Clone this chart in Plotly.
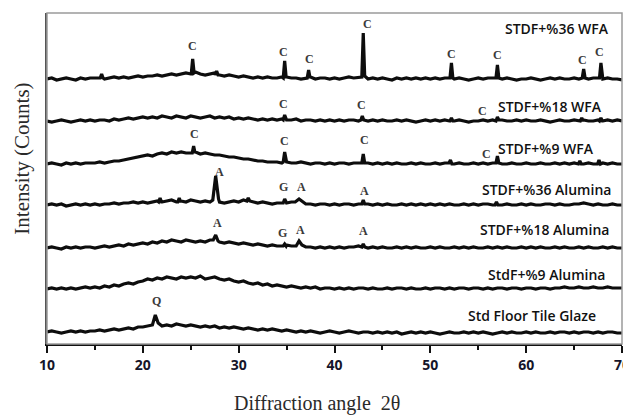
import plotly.graph_objects as go

# 2-theta sampling grid for the background (0.5 degree steps, 10..70)
two_theta = [10 + 0.5 * i for i in range(121)]

series_names = ["STDF+%36 WFA", "STDF+%18 WFA", "STDF+%9 WFA",
                "STDF+%36 Alumina", "STDF+%18 Alumina", "StdF+%9 Alumina",
                "Std Floor Tile Glaze"]

# vertical stacking offset of each pattern (a.u.)
stack_offset = [265, 223, 180, 139, 96, 55, 12]

# ---- background intensities (a.u.) on the 0.5 degree grid ----
bg_36wfa = [0, 1, -1, 0, 1, 0, -1, 1, 0, 1,
            1, 1, 0, 1, 2, 1, 2, 1, 2, 3,
            2, 3, 3, 4, 3, 4, 5, 4, 5, 6,
            5, 7, 5, 4, 5, 6, 4, 3, 4, 3,
            2, 3, 2, 1, 2, 1, 2, 1, 1, 2,
            2, 1, 1, 0, 1, 2, 0, 1, 1, 0,
            1, 0, 1, 2, 1, 2, 1, 0, 1, 0,
            1, 0, -1, 1, 0, 1, 0, 1, 0, 1,
            0, 1, 0, 1, 1, 0, 1, 0, -1, 0,
            1, 0, 1, 1, 0, 0, 1, 0, -1, 0,
            0, 1, 0, -1, 0, 1, 0, 1, 0, 0,
            1, 0, 1, 0, 1, 1, 0, 1, 0, 0,
            -1]
bg_18wfa = [0, -1, 0, 1, 0, -1, 0, 1, 0, 1,
            0, 1, 1, 0, 2, 1, 2, 3, 2, 3,
            4, 3, 4, 3, 5, 4, 3, 5, 4, 3,
            5, 4, 3, 4, 5, 3, 4, 3, 4, 2,
            3, 2, 3, 2, 1, 2, 1, 2, 1, 2,
            1, 1, 2, 0, 1, 1, 0, 1, 0, 1,
            0, 1, 0, 1, 1, 0, 1, 0, 1, 0,
            1, 0, 0, 1, 0, 1, 0, -1, 0, 1,
            0, 1, 0, 1, 0, 0, 1, 0, -1, 0,
            0, 1, 0, 1, 0, 1, 0, 0, 1, 0,
            1, 0, 0, 1, 0, -1, 0, 1, 0, 0,
            1, 0, 1, 0, 0, 1, 0, 1, 0, 1,
            0]
bg_9wfa = [0, 1, 0, -1, 1, 0, 1, 0, 1, 1,
           1, 2, 1, 2, 3, 3, 4, 5, 6, 7,
           8, 9, 8, 10, 11, 10, 12, 11, 12, 11,
           11, 12, 10, 11, 10, 9, 9, 8, 7, 7,
           6, 5, 5, 4, 3, 3, 2, 2, 2, 1,
           2, 1, 1, 2, 1, 0, 1, 1, 0, 1,
           0, 1, 1, 0, 1, 1, 2, 1, 0, 1,
           0, 1, 0, 1, 0, 0, 1, 0, 1, 0,
           0, 1, 0, 1, 1, 0, 1, 0, 0, 1,
           0, 1, 0, 1, 1, 0, 0, 1, 0, 0,
           1, 0, 0, 1, 0, 0, 1, 0, 1, 0,
           1, 0, 0, 1, 0, 1, 1, 0, 1, 0,
           0]
bg_36al = [0, 1, 0, 1, -1, 0, 1, 0, 1, 0,
           1, 0, 1, 1, 2, 1, 2, 2, 3, 2,
           3, 2, 3, 4, 3, 4, 5, 3, 4, 3,
           5, 4, 3, 4, 3, 7, 3, 2, 3, 4,
           3, 5, 6, 3, 2, 3, 2, 1, 2, 2,
           2, 3, 4, 2, 1, 1, 0, 1, 1, 0,
           1, 0, 1, 1, 0, 1, 0, 1, 0, 1,
           0, 1, 0, 0, 1, 0, 1, 0, 1, 0,
           1, 0, 1, 0, 1, 0, 0, 1, 0, 1,
           0, 1, 1, 0, 1, 0, 1, 0, 0, 1,
           0, 1, 0, 0, 1, 1, 0, 1, 0, 0,
           1, 1, 2, 1, 0, 1, 0, 0, 1, 0,
           0]
bg_18al = [0, 1, 0, -1, 1, 0, 1, 0, 1, 1,
           0, 1, 2, 1, 2, 3, 2, 4, 3, 4,
           5, 4, 6, 5, 7, 6, 8, 7, 6, 8,
           7, 6, 7, 6, 8, 9, 6, 5, 6, 5,
           4, 5, 4, 3, 4, 3, 2, 3, 2, 2,
           3, 2, 4, 3, 1, 1, 0, 1, 0, 1,
           0, 1, 0, 1, 1, 2, 1, 0, 1, 0,
           1, 0, 0, 1, 0, 1, 0, 1, 0, 0,
           1, 0, 1, 0, 0, 1, 0, 1, 0, 1,
           0, 0, 1, 0, 1, 0, 1, 0, 0, 1,
           0, 1, 0, 1, 0, 0, 1, 0, 1, 0,
           0, 1, 0, 1, 0, 0, 1, 0, 1, 0,
           0]
bg_9al = [0, 1, 0, 1, 0, 1, 0, 1, 2, 1,
          2, 1, 3, 2, 4, 3, 5, 6, 5, 7,
          8, 10, 9, 11, 10, 12, 11, 10, 12, 11,
          12, 11, 13, 10, 11, 12, 10, 9, 10, 8,
          7, 8, 6, 5, 6, 4, 5, 3, 4, 3,
          2, 3, 2, 1, 2, 1, 2, 0, 1, 1,
          0, 1, 0, 1, 0, 1, 1, 0, 1, 0,
          0, 1, 0, 1, 1, 0, 1, 0, 0, 1,
          0, 1, 1, 0, 1, 0, 1, 1, 0, 1,
          1, 0, 1, 0, 1, 1, 0, 1, 1, 0,
          1, 1, 0, 1, 1, 0, 1, 1, 2, 1,
          1, 2, 1, 1, 2, 1, 1, 2, 1, 1,
          1]
bg_std = [0, 1, 0, -1, 0, 1, 0, 1, 0, 1,
          1, 2, 1, 2, 3, 2, 3, 4, 3, 5,
          5, 6, 8, 7, 6, 7, 6, 8, 7, 6,
          7, 6, 5, 6, 5, 6, 4, 5, 4, 5,
          4, 3, 4, 3, 2, 3, 2, 3, 2, 1,
          2, 1, 0, 1, 0, 1, 0, -1, 0, 1,
          0, -1, 0, 1, 0, -1, 0, 0, -1, 0,
          -1, 0, -1, 0, -2, -1, 0, -1, 0, -1,
          0, -1, -2, -1, 0, -1, -1, 0, -1, 0,
          -1, 0, -1, -2, -1, 0, -1, 0, -1, -1,
          0, -1, 0, -1, -1, 0, -1, 0, 0, -1,
          0, -1, 0, 0, -1, 0, -1, 0, 0, -1,
          -1]

# ---- sharp reflections: (foot, apex, foot) samples per peak ----
pk_36wfa_x = [15.55, 15.7, 15.85, 25.05, 25.2, 25.35, 27.55, 27.7, 27.85,
              34.65, 34.8, 34.95, 37.15, 37.3, 37.45, 42.85, 43.0, 43.15,
              52.05, 52.2, 52.35, 56.85, 57.0, 57.15, 65.85, 66.0, 66.15,
              67.65, 67.8, 67.95]
pk_36wfa_y = [1, 5, 1, 5, 20, 6, 4, 8, 4,
              1, 18, 2, 1, 9, 1, 2, 46, 3,
              1, 16, 1, 1, 14, 1, 1, 10, 1,
              1, 16, 1]
pk_18wfa_x = [34.65, 34.8, 34.95, 42.75, 42.9, 43.05, 52.05, 52.2, 52.35,
              56.85, 57.0, 57.15, 65.65, 65.8, 65.95, 67.65, 67.8, 67.95]
pk_18wfa_y = [1, 6, 1, 1, 5, 1, 0, 3, 0,
              0, 4, 1, 0, 3, 0, 0, 3, 0]
pk_9wfa_x = [25.15, 25.3, 25.45, 34.65, 34.8, 34.95, 42.85, 43.0, 43.15,
             51.95, 52.1, 52.25, 56.85, 57.0, 57.15, 65.45, 65.6, 65.75,
             67.45, 67.6, 67.75]
pk_9wfa_y = [11, 18, 11, 2, 12, 2, 1, 10, 1,
             1, 4, 0, 1, 8, 1, 0, 3, 0,
             0, 4, 0]
pk_36al_x = [21.65, 21.8, 21.95, 23.65, 23.8, 23.95, 27.3, 27.6, 27.9,
             30.85, 31.0, 31.15, 34.65, 34.8, 34.95, 35.9, 36.3, 36.7,
             42.85, 43.0, 43.15, 56.75, 56.9, 57.05]
pk_36al_y = [3, 7, 3, 3, 7, 3, 5, 29, 6,
             4, 7, 4, 2, 6, 2, 3, 6, 3,
             1, 5, 1, 0, 3, 0]
pk_18al_x = [27.35, 27.6, 27.85, 34.65, 34.8, 34.95, 36.0, 36.3, 36.6,
             42.85, 43.0, 43.15]
pk_18al_y = [8, 13, 7, 2, 4, 2, 2, 7, 3,
             1, 4, 1]
pk_9al_x = []
pk_9al_y = []
pk_std_x = [21.0, 21.3, 21.6]
pk_std_y = [7, 17, 9]

backgrounds = [bg_36wfa, bg_18wfa, bg_9wfa, bg_36al, bg_18al, bg_9al, bg_std]
peaks_x = [pk_36wfa_x, pk_18wfa_x, pk_9wfa_x, pk_36al_x, pk_18al_x, pk_9al_x, pk_std_x]
peaks_y = [pk_36wfa_y, pk_18wfa_y, pk_9wfa_y, pk_36al_y, pk_18al_y, pk_9al_y, pk_std_y]

# phase labels: (text, 2theta, height a.u.)
phase_text = ["C", "C", "C", "C", "C", "C", "C", "C",
              "C", "C", "C",
              "C", "C", "C", "C",
              "A", "G", "A", "A",
              "A", "G", "A", "A",
              "Q"]
phase_x = [25.2, 34.7, 37.4, 43.4, 52.2, 57.0, 65.9, 67.7,
           34.7, 42.8, 55.4,
           25.4, 34.8, 43.1, 55.9,
           28.0, 34.7, 36.6, 43.1,
           27.8, 34.6, 36.4, 43.0,
           21.4]
phase_y = [298, 292, 285, 320, 290, 289, 284, 292,
           240, 239, 233,
           210, 203, 204, 190,
           172, 157, 157, 153,
           121, 111, 114, 113,
           43]

# series name labels: right edge (2theta) and height (a.u.)
name_x = [68.8, 68.1, 67.3, 69.1, 68.8, 68.4, 67.5]
name_y = [316, 238, 196, 155, 115, 70, 29]


def merge(bg, px, py):
    assert len(bg) == len(two_theta)
    spans = [(px[i], px[i + 2]) for i in range(0, len(px), 3)]
    pts = [(x, y) for x, y in zip(two_theta, bg)
           if not any(a <= x <= b for a, b in spans)]
    pts += list(zip(px, py))
    pts.sort()
    return [p[0] for p in pts], [p[1] for p in pts]


fig = go.Figure()
for name, bg, px, py, off in zip(series_names, backgrounds, peaks_x, peaks_y, stack_offset):
    xs, ys = merge(bg, px, py)
    fig.add_trace(go.Scatter(x=xs, y=[v + off for v in ys], mode="lines", name=name,
                             line=dict(color="#0d0d0d", width=3.2), showlegend=False))

for t, x, y in zip(phase_text, phase_x, phase_y):
    fig.add_annotation(x=x, y=y, text=t, showarrow=False, xanchor="center", yanchor="middle",
                       font=dict(family="Liberation Serif", size=12, color="#3a3a3a", weight="bold"))

for t, x, y in zip(series_names, name_x, name_y):
    fig.add_annotation(x=x, y=y, text=t, showarrow=False, xanchor="right", yanchor="middle",
                       font=dict(family="Open Sans", size=14, color="#111111", weight=600))

fig.add_annotation(xref="paper", yref="paper", x=0, y=0.56, xshift=-25, text="Intensity (Counts)",
                   textangle=-90, showarrow=False, xanchor="center", yanchor="middle",
                   font=dict(family="Liberation Serif", size=21, color="#2a2a2a"))
fig.add_annotation(xref="paper", yref="paper", x=0.47, y=0, yshift=-59, text="Diffraction angle&nbsp;&nbsp;2θ",
                   showarrow=False, xanchor="center", yanchor="middle",
                   font=dict(family="Liberation Serif", size=20, color="#2a2a2a"))

fig.add_shape(type="rect", xref="paper", yref="paper", x0=0, y0=0, x1=1, y1=1,
              line=dict(color="#9a9a9a", width=1.5), layer="above")

fig.update_layout(
    width=631, height=418,
    margin=dict(l=39, r=17, t=5, b=82),
    paper_bgcolor="white", plot_bgcolor="white",
    xaxis=dict(range=[10, 70], dtick=10, tick0=10, showgrid=False, zeroline=False,
               showline=True, linecolor="#111111", linewidth=1.5,
               ticks="outside", ticklen=7, tickwidth=1.5, tickcolor="#111111",
               ticklabelstandoff=0,
               tickfont=dict(family="Open Sans", size=14, color="#15152a", weight="bold"),
               minor=dict(dtick=5, ticks="outside", ticklen=4, tickwidth=1.5, tickcolor="#111111")),
    yaxis=dict(range=[0, 331], showticklabels=False, showgrid=False, zeroline=False,
               showline=True, linecolor="#555555", linewidth=1.5, ticks=""),
)

fig.write_html("out.html")
